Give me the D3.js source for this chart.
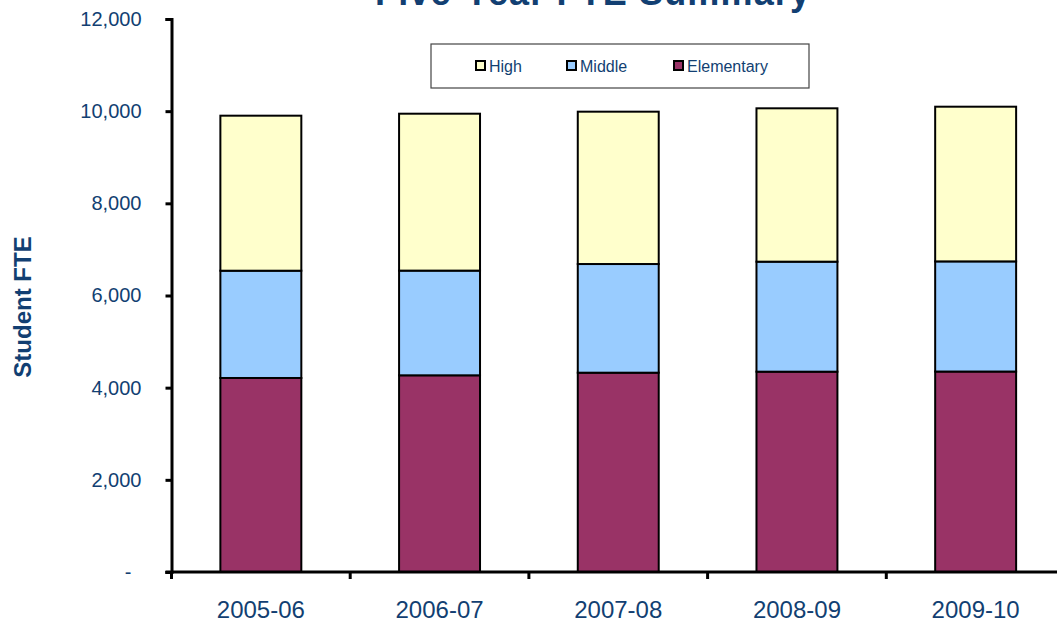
<!DOCTYPE html>
<html>
<head>
<meta charset="utf-8">
<script src="https://cdn.jsdelivr.net/npm/d3@7"></script>
<style>
  html, body { margin: 0; padding: 0; background: #fff; }
  svg { display: block; font-family: Arial, "Liberation Sans", sans-serif; }
</style>
</head>
<body>
<svg id="chart" width="1057" height="622"></svg>
<script>
const categories = ["2005-06", "2006-07", "2007-08", "2008-09", "2009-10"];
const elementary = [4210, 4268, 4325, 4347, 4350];
const middle     = [2328, 2272, 2358, 2387, 2390];
const high       = [3364, 3405, 3306, 3328, 3357];
const seriesNames = ["Elementary", "Middle", "High"];
const yTicks = [0, 2000, 4000, 6000, 8000, 10000, 12000];
const yTickLabels = ["-", "2,000", "4,000", "6,000", "8,000", "10,000", "12,000"];
const legendOrder = ["High", "Middle", "Elementary"];

const colors = { Elementary: "#993366", Middle: "#99CCFF", High: "#FFFFCC" };
const textColor = "#123f72";

const svg = d3.select("#chart");
const plotLeft = 171.5, plotRight = 1065, plotTop = 19, plotBottom = 572;

const x = d3.scaleBand().domain(categories).range([plotLeft, plotRight])
  .paddingInner(0.547).paddingOuter(0.2735);
const y = d3.scaleLinear().domain([0, 12000]).range([plotBottom, plotTop]);

const table = categories.map((c, i) => ({ cat: c, Elementary: elementary[i], Middle: middle[i], High: high[i] }));
const stacked = d3.stack().keys(seriesNames)(table);

// Bars
svg.append("g").selectAll("g").data(stacked).join("g")
  .attr("fill", d => colors[d.key])
  .selectAll("rect").data(d => d).join("rect")
  .attr("x", d => x(d.data.cat))
  .attr("width", x.bandwidth())
  .attr("y", d => y(d[1]))
  .attr("height", d => y(d[0]) - y(d[1]))
  .attr("stroke", "#000")
  .attr("stroke-width", 2);

// Y axis
const yAxis = svg.append("g").attr("transform", `translate(${plotLeft},0)`)
  .call(d3.axisLeft(y).tickValues(yTicks).tickSize(6).tickPadding(24)
    .tickFormat((d, i) => yTickLabels[i]));
yAxis.select(".domain").attr("stroke", "#000").attr("stroke-width", 3);
yAxis.selectAll(".tick line").attr("stroke", "#000").attr("stroke-width", 3);
yAxis.selectAll(".tick text").attr("fill", textColor).attr("font-size", 20)
  .attr("font-family", "Arial, 'Liberation Sans', sans-serif")
  .attr("dx", (d) => d === 0 ? -10 : 0);

// X axis
const boundaries = d3.range(categories.length + 1).map(i => plotLeft + i * x.step());
const xg = svg.append("g");
xg.append("line").attr("x1", plotLeft - 6).attr("x2", 1057).attr("y1", plotBottom).attr("y2", plotBottom)
  .attr("stroke", "#000").attr("stroke-width", 3);
xg.selectAll("line.tk").data(boundaries).join("line").attr("class", "tk")
  .attr("x1", d => d).attr("x2", d => d).attr("y1", plotBottom).attr("y2", plotBottom + 7)
  .attr("stroke", "#000").attr("stroke-width", 3);
xg.selectAll("text").data(categories).join("text")
  .attr("x", d => x(d) + x.bandwidth() / 2)
  .attr("y", 618)
  .attr("text-anchor", "middle")
  .attr("fill", textColor).attr("font-size", 24)
  .text(d => d);

// Title
svg.append("text").attr("x", 375).attr("y", 5)
  .attr("font-size", 36).attr("font-weight", "bold").attr("fill", textColor)
  .attr("textLength", 435).attr("lengthAdjust", "spacing")
  .text("Five-Year FTE  Summary");

// Y axis title
svg.append("text").attr("transform", "translate(31,307) rotate(-90)")
  .attr("text-anchor", "middle").attr("font-size", 24).attr("font-weight", "bold")
  .attr("fill", textColor).text("Student FTE");

// Legend
const lg = svg.append("g");
lg.append("rect").attr("x", 431).attr("y", 44).attr("width", 378).attr("height", 44)
  .attr("fill", "#fff").attr("stroke", "#444").attr("stroke-width", 1.2);
const legendX = [476, 567, 674];
legendOrder.forEach((name, i) => {
  lg.append("rect").attr("x", legendX[i]).attr("y", 61).attr("width", 9).attr("height", 9)
    .attr("fill", colors[name]).attr("stroke", "#000").attr("stroke-width", 2);
  lg.append("text").attr("x", legendX[i] + 13).attr("y", 71.5)
    .attr("font-size", 16).attr("fill", textColor).text(name);
});
</script>
</body>
</html>
